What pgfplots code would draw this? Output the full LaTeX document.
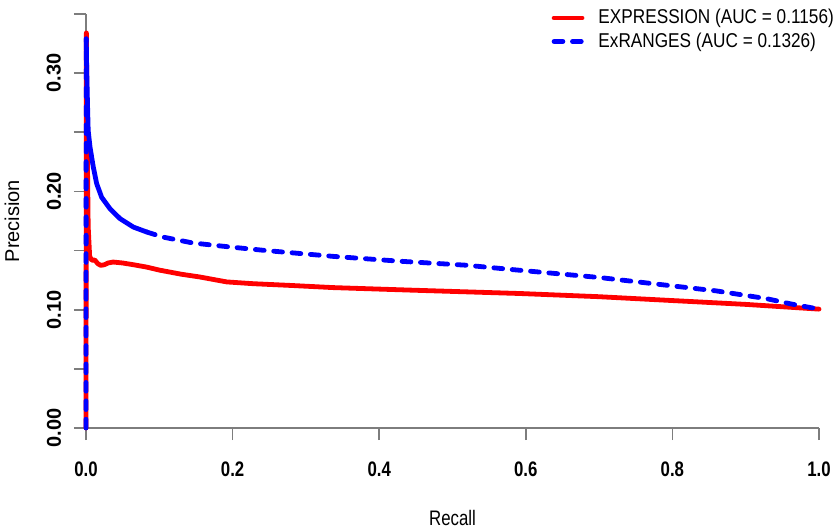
\documentclass[border=0pt]{standalone}
\usepackage{pgfplots}
\pgfplotsset{compat=1.18}
\usepackage{fontspec}
\setmainfont{Liberation Sans}[FakeStretch=0.8]
\newfontfamily\upfont{Liberation Sans}
\newfontfamily\legfont{Liberation Sans}[FakeStretch=0.86]
\definecolor{axgray}{RGB}{125,125,125}
\definecolor{rred}{RGB}{255,0,0}
\definecolor{rblue}{RGB}{0,0,255}

\begin{document}
\begin{tikzpicture}
\useasboundingbox (-43bp,-52bp) rectangle (375.5bp,214bp);
\begin{axis}[
    at={(0,0)}, anchor=south west,
    scale only axis,
    width=366.5bp, height=207bp,
    xmin=0, xmax=1, ymin=0, ymax=0.35,
    axis lines*=left,
    axis line style={axgray, line width=0.8bp},
    clip=false,
    xtick={0,0.2,0.4,0.6,0.8,1.0},
    ytick={0,0.1,0.2,0.3},
    minor ytick={0.05,0.15,0.25,0.35},
    tick align=outside,
    major tick length=6bp, minor tick length=6bp,
    tick style={axgray, line width=0.8bp},
    /pgf/number format/assume math mode=true,
    xticklabel shift=7.5bp,
    yticklabel shift=3bp,
    xticklabel style={/pgf/number format/fixed, /pgf/number format/fixed zerofill, /pgf/number format/precision=1,
        font=\fontsize{10.5bp}{12bp}\selectfont\bfseries, anchor=north},
    yticklabel style={/pgf/number format/fixed, /pgf/number format/fixed zerofill, /pgf/number format/precision=2,
        font=\upfont\fontsize{10bp}{12bp}\selectfont\bfseries, rotate=90, anchor=south},
    xlabel={Recall},
    ylabel={Precision},
    xlabel style={font=\fontsize{10.5bp}{12bp}\selectfont, at={(axis description cs:0.5,-0.217)}, anchor=center},
    ylabel style={font=\upfont\fontsize{10bp}{12bp}\selectfont, at={(axis description cs:-0.101,0.5)}, anchor=center},
    legend style={draw=none, fill=none, at={(axis description cs:0.6353,1.0115)}, anchor=north west,
        inner sep=0pt, outer sep=0pt, row sep=3bp, column sep=7bp,
        font=\legfont\fontsize{10bp}{12bp}\selectfont,
        nodes={inner sep=0pt, anchor=west}},
    legend cell align=left,
    legend image code/.code={\draw[#1] (0bp,0bp) -- (14bp,0bp);},
    expr/.style={rred, line width=2.4bp, line cap=round, line join=round},
    exr/.style={rblue, line width=2.4bp, line cap=round, line join=round},
    exrdash/.style={exr, dash pattern=on 4.4bp off 4.8bp},
]
% EXPRESSION
\addplot[expr] coordinates {
(0,0) (0.0005,0.334) (0.0015,0.25) (0.003,0.17) (0.005,0.145) (0.008,0.1418)
(0.012,0.142) (0.016,0.139) (0.02,0.1375) (0.025,0.138) (0.03,0.1395) (0.037,0.1403)
(0.05,0.1395) (0.065,0.138) (0.083,0.136) (0.1,0.1335) (0.13,0.130) (0.155,0.1277)
(0.192,0.1235) (0.228,0.122) (0.28,0.1205) (0.337,0.1187) (0.446,0.1165) (0.592,0.1137)
(0.7,0.111) (0.792,0.108) (0.9,0.1045) (1.0,0.1005)
};
% ExRANGES: vertical start (dashed), dense early part (looks solid), then dashed
\addplot[exrdash] coordinates {(0,0) (0.0003,0.329)};
\addplot[exr, forget plot] coordinates {
(0.0003,0.329) (0.001,0.302) (0.002,0.275) (0.003,0.2515) (0.0055,0.2374) (0.010,0.2205)
(0.0146,0.2065) (0.0214,0.195) (0.0327,0.1854) (0.0464,0.177) (0.0645,0.1699) (0.0828,0.1657)
};
\addplot[exrdash, forget plot] coordinates {
(0.0828,0.1657) (0.105,0.1614) (0.146,0.1564)
(0.2,0.1528) (0.246,0.150) (0.337,0.1451) (0.428,0.141) (0.519,0.1376) (0.582,0.1339)
(0.701,0.1272) (0.792,0.1207) (0.86,0.1159) (0.928,0.1094) (0.964,0.1046) (1.0,0.1005)
};
\legend{EXPRESSION (AUC = 0.1156), ExRANGES (AUC = 0.1326)}
\end{axis}
\end{tikzpicture}
\end{document}
